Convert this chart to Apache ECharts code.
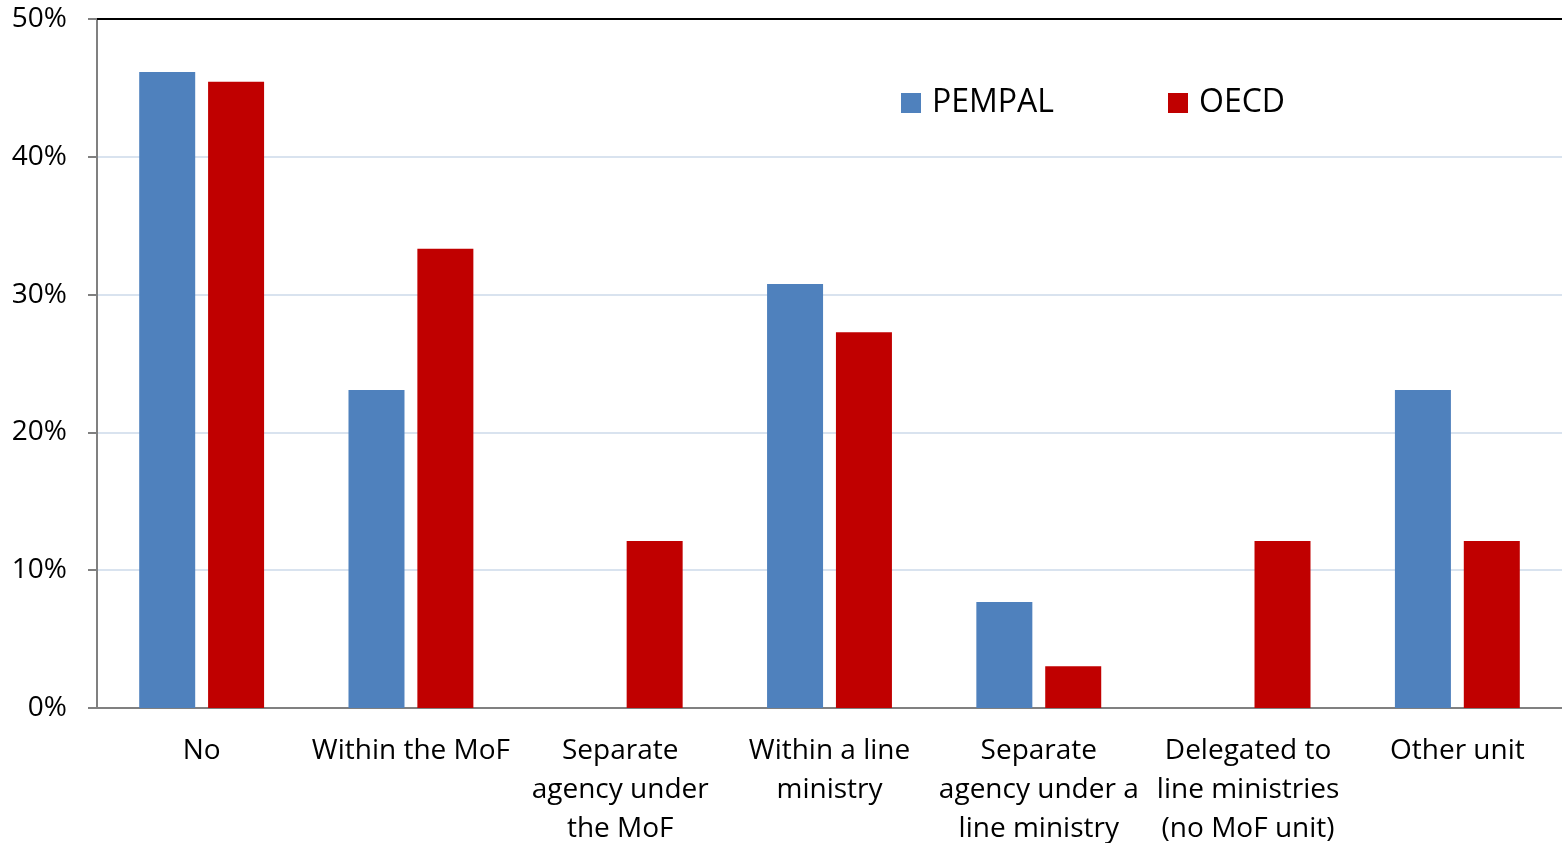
<!DOCTYPE html>
<html><head><meta charset="utf-8">
<script src="https://cdn.jsdelivr.net/npm/echarts@6/dist/echarts.min.js"></script>
<style>html,body{margin:0;padding:0;background:#fff}#c{width:1562px;height:843px}</style>
</head><body><div id="c"></div>
<script>
const categories = ["No", "Within the MoF", "Separate\nagency under\nthe MoF", "Within a line\nministry", "Separate\nagency under a\nline ministry", "Delegated to\nline ministries\n(no MoF unit)", "Other unit"];
const pempal = [46.15, 23.08, 0, 30.77, 7.69, 0, 23.08];
const oecd = [45.45, 33.33, 12.12, 27.27, 3.03, 12.12, 12.12];
const yTicks = [0, 10, 20, 30, 40, 50];

const font = "'Open Sans', sans-serif";
const chart = echarts.init(document.getElementById('c'));
chart.setOption({
  animation: false,
  backgroundColor: '#fff',
  grid: { left: 97, right: 0, top: 19, bottom: 135, containLabel: false, outerBoundsMode: 'none' },
  legend: {
    left: 896, top: 82, itemWidth: 20, itemHeight: 20, itemGap: 114, icon: 'rect',
    textStyle: { fontFamily: font, fontSize: 32, color: '#000', padding: [0, 0, 0, 6] },
    data: ['PEMPAL', 'OECD']
  },
  xAxis: [{
    type: 'category', data: categories, position: 'bottom',
    axisLine: { lineStyle: { color: '#808080', width: 2 } },
    axisTick: { show: false },
    axisLabel: { interval: 0, fontFamily: font, fontSize: 28, color: '#000', lineHeight: 39, margin: 24 }
  }, {
    type: 'category', data: categories, position: 'top',
    axisLine: { lineStyle: { color: '#000', width: 2 } },
    axisTick: { show: false }, axisLabel: { show: false }
  }],
  yAxis: {
    type: 'value', min: yTicks[0], max: yTicks[yTicks.length - 1], interval: 10,
    axisLine: { show: true, lineStyle: { color: '#808080', width: 2 } },
    axisTick: { show: true, length: 9, lineStyle: { color: '#808080', width: 2 } },
    axisLabel: { fontFamily: font, fontSize: 28, color: '#000', margin: 30, formatter: v => v + '%' },
    splitLine: { lineStyle: { color: '#D9E3EF', width: 2 } }
  },
  series: [
    { name: 'PEMPAL', type: 'bar', data: pempal, barWidth: 56, barGap: '23%',
      itemStyle: { color: '#4F81BD' } },
    { name: 'OECD', type: 'bar', data: oecd, barWidth: 56, barGap: '23%',
      itemStyle: { color: '#C00000' } }
  ]
});
</script></body></html>
